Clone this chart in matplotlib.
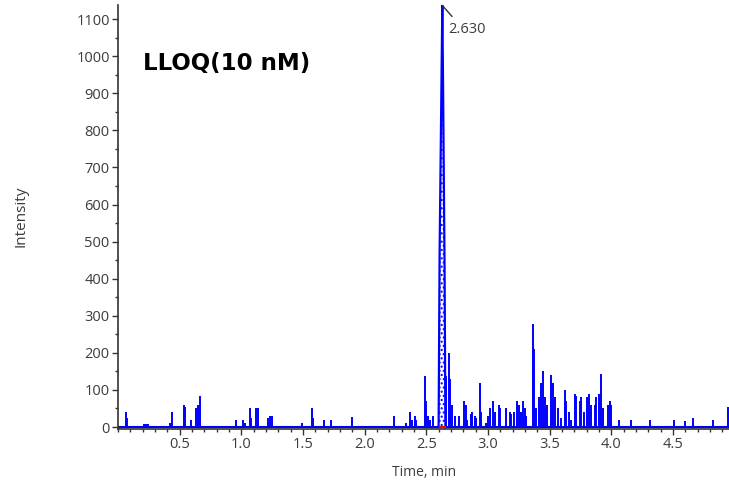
import matplotlib
matplotlib.use("Agg")
import matplotlib.pyplot as plt
from matplotlib.ticker import MultipleLocator

# noise spikes (time in min, intensity)
spike_times = [0.068, 0.076, 0.208, 0.225, 0.240, 0.420, 0.441, 0.535, 0.547, 0.590,
               0.630, 0.646, 0.663, 0.955, 1.014, 1.033, 1.068, 1.082, 1.122, 1.135,
               1.217, 1.230, 1.252, 1.495, 1.577, 1.582, 1.671, 1.725, 1.901,
               2.236, 2.333, 2.366, 2.385, 2.406, 2.420, 2.493, 2.501, 2.514, 2.528, 2.555,
               2.663, 2.685, 2.696, 2.712, 2.731, 2.766, 2.804, 2.820, 2.831, 2.862,
               2.874, 2.893, 2.907, 2.939, 2.947, 2.982, 3.001, 3.020, 3.041, 3.055,
               3.090, 3.101, 3.144, 3.177, 3.190, 3.212, 3.239, 3.252, 3.266, 3.285,
               3.298, 3.312, 3.366, 3.374, 3.393, 3.415, 3.434, 3.447, 3.466, 3.483,
               3.515, 3.528, 3.547, 3.569, 3.596, 3.623, 3.637, 3.655, 3.677, 3.704,
               3.718, 3.745, 3.758, 3.780, 3.804, 3.820, 3.839, 3.866, 3.880, 3.901,
               3.920, 3.934, 3.974, 3.988, 4.002, 4.063, 4.158, 4.312, 4.507, 4.596,
               4.663, 4.826, 4.947]
spike_heights = [40, 25, 8, 8, 7, 10, 40, 60, 55, 20,
                 50, 60, 83, 20, 18, 10, 50, 25, 50, 50,
                 25, 30, 30, 10, 50, 25, 18, 20, 27,
                 30, 10, 40, 20, 30, 20, 138, 70, 30, 20, 30,
                 137, 200, 130, 60, 30, 30, 70, 60, 20, 35,
                 40, 30, 25, 120, 40, 10, 30, 50, 70, 40,
                 60, 50, 50, 40, 35, 40, 70, 60, 40, 70,
                 50, 30, 279, 210, 50, 80, 120, 150, 80, 60,
                 140, 120, 80, 50, 25, 100, 70, 40, 20, 90,
                 85, 70, 80, 40, 80, 90, 60, 60, 80, 90,
                 144, 50, 60, 70, 60, 20, 20, 20, 20, 15,
                 25, 20, 55]

# the integrated peak
peak_times = [2.600, 2.608, 2.630, 2.636, 2.648, 2.655]
peak_heights = [0, 470, 1137, 925, 440, 0]
apex_time = 2.630
apex_height = 1137

blue = "#0000ff"
grey = "#3c3c3c"
tick_font = "Open Sans"

fig = plt.figure(figsize=(7.29, 4.83), dpi=100)
ax = fig.add_axes([0.1619, 0.1128, 0.8381, 0.8768])

# baseline + spikes
ax.axhline(0, color=blue, lw=1.5, zorder=2)
ax.vlines(spike_times, 0, spike_heights, color=blue, lw=1.4, zorder=2)

# peak with hatched integration area and red baseline
ax.fill_between(peak_times, peak_heights, color="white", hatch="....",
                edgecolor=blue, linewidth=0, zorder=1)
ax.plot(peak_times, peak_heights, color=blue, lw=1.6, zorder=3)
ax.plot([peak_times[1], peak_times[-2]], [0, 0], color="red", lw=1.5, zorder=4)

# apex label with leader line
ax.annotate("", xy=(apex_time, apex_height), xytext=(7, -8), textcoords="offset points",
            arrowprops=dict(arrowstyle="-", color="#333333", lw=1, shrinkA=0, shrinkB=0))
ax.annotate("2.630", xy=(apex_time, apex_height), xytext=(4, -17), textcoords="offset points",
            ha="left", va="center", fontsize=10.5, family=tick_font, color=grey)

ax.text(0.041, 0.863, "LLOQ(10 nM)", transform=ax.transAxes, fontsize=16.5,
        fontweight="bold", family="DejaVu Sans", color="black", va="center", ha="left")

ax.set_xlim(0, 4.955)
ax.set_ylim(-4, 1138)
ax.xaxis.set_major_locator(MultipleLocator(0.5))
ax.xaxis.set_minor_locator(MultipleLocator(0.1))
ax.yaxis.set_major_locator(MultipleLocator(100))
ax.yaxis.set_minor_locator(MultipleLocator(50))
ax.set_xticks([0.5, 1.0, 1.5, 2.0, 2.5, 3.0, 3.5, 4.0, 4.5])
ax.set_yticks(range(0, 1101, 100))

for side in ["top", "right"]:
    ax.spines[side].set_visible(False)
for side in ["left", "bottom"]:
    ax.spines[side].set_color("#333333")
    ax.spines[side].set_linewidth(1.2)

ax.tick_params(which="major", length=4, width=1, color="#333333", pad=2,
               labelsize=10.5, labelcolor=grey)
ax.tick_params(which="minor", length=2.5, width=1, color="#333333")
for lbl in ax.get_xticklabels() + ax.get_yticklabels():
    lbl.set_family(tick_font)

ax.set_xlabel("Time, min", fontsize=10, family=tick_font, color=grey)
ax.set_ylabel("Intensity", fontsize=11, family=tick_font, color=grey)
ax.xaxis.label.set_va("center")
ax.yaxis.label.set_va("center")
ax.xaxis.set_label_coords(0.501, -0.105)
ax.yaxis.set_label_coords(-0.159, 0.502)

fig.savefig("out.png", dpi=100)
